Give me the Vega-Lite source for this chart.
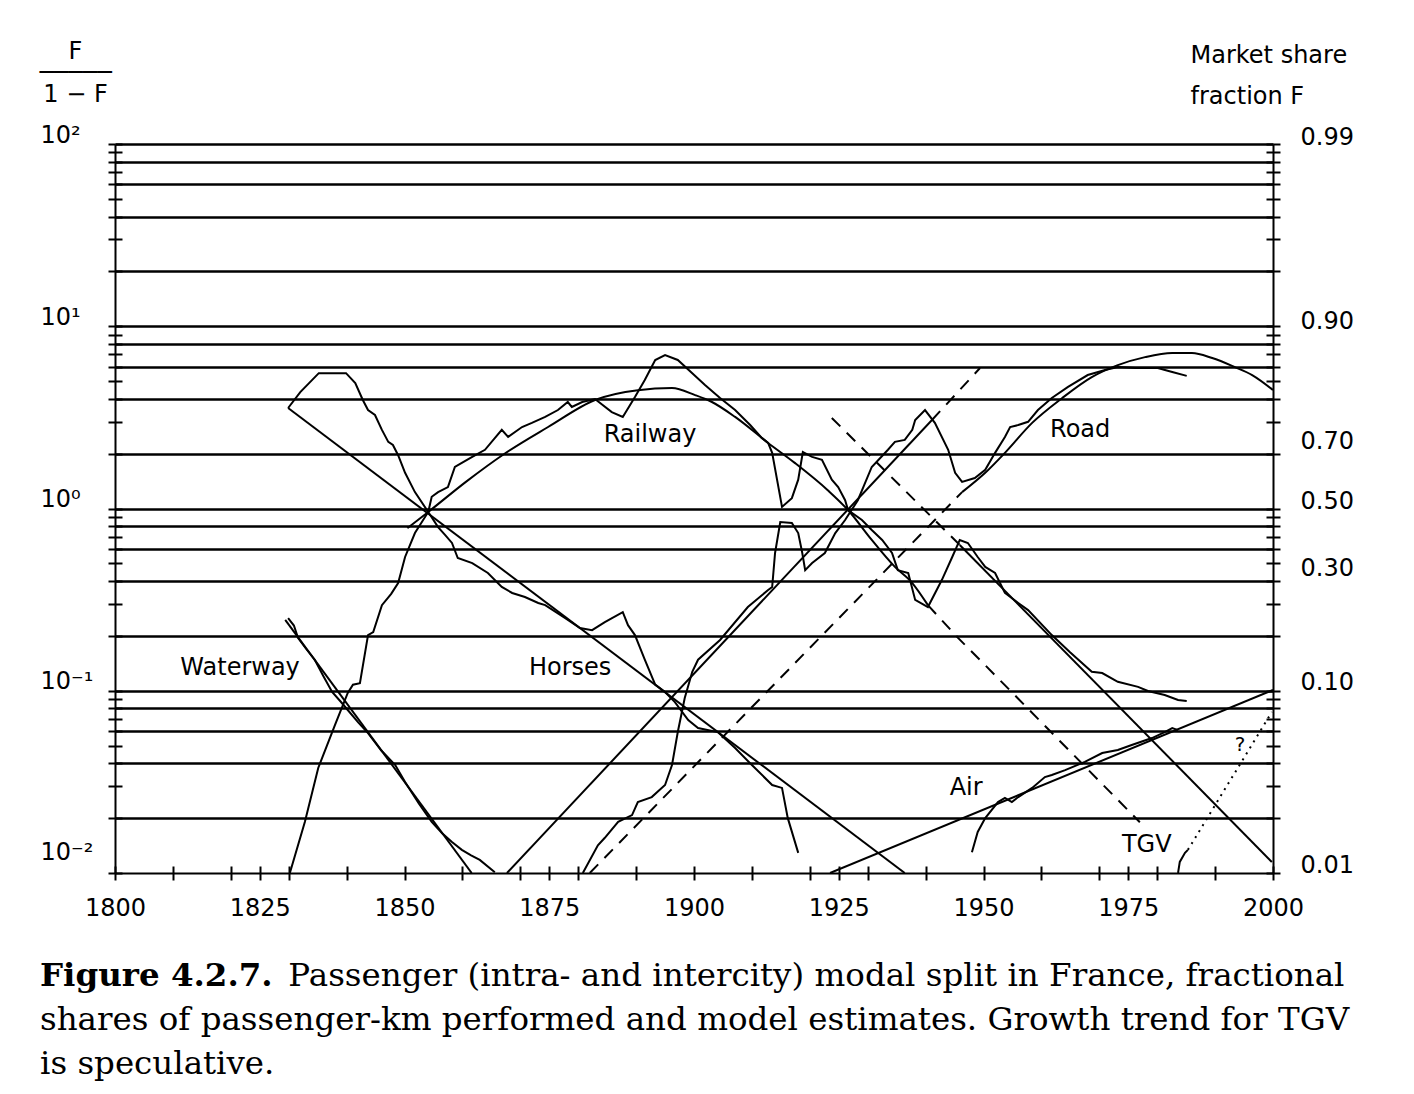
{
  "$schema": "https://vega.github.io/schema/vega-lite/v6.json",
  "width": 1158,
  "height": 729,
  "autosize": {"type": "none"},
  "padding": {"left": 115, "top": 144, "right": 141, "bottom": 221},
  "background": "white",
  "config": {
    "view": {"stroke": null},
    "font": "DejaVu Sans",
    "axis": {
      "domainColor": "black", "domainWidth": 2, "tickColor": "black", "tickWidth": 2,
      "labelColor": "black", "labelFont": "DejaVu Sans", "labelFontSize": 24,
      "titleColor": "black", "titleFont": "DejaVu Sans", "titleFontSize": 24, "titleFontWeight": "normal",
      "grid": false, "labelOverlap": false, "labelFlush": false
    }
  },
  "title": {
    "text": "Figure 4.2.7.",
    "subtitle": [
      "\u2800\u2800\u2800\u2800\u2800\u2800\u2800\u2800\u2800\u2800 Passenger (intra- and intercity) modal split in France, fractional",
      "shares of passenger-km performed and model estimates.  Growth trend for TGV",
      "is speculative."
    ],
    "orient": "bottom", "anchor": "start", "frame": "group",
    "dx": -75, "offset": 40,
    "font": "DejaVu Serif", "fontSize": 32.5, "fontWeight": "bold", "color": "black",
    "subtitleFont": "DejaVu Serif", "subtitleFontSize": 32.5, "subtitleColor": "black",
    "subtitleLineHeight": 44, "subtitlePadding": -32.5
  },
  "datasets": {
    "curves": [
      {"s": "Waterway", "year": 1829.9, "v": 0.250},
      {"s": "Waterway", "year": 1830.9, "v": 0.228},
      {"s": "Waterway", "year": 1831.6, "v": 0.195},
      {"s": "Waterway", "year": 1833.0, "v": 0.170},
      {"s": "Waterway", "year": 1834.5, "v": 0.148},
      {"s": "Waterway", "year": 1836.0, "v": 0.120},
      {"s": "Waterway", "year": 1837.5, "v": 0.0985},
      {"s": "Waterway", "year": 1839.0, "v": 0.087},
      {"s": "Waterway", "year": 1840.2, "v": 0.0784},
      {"s": "Waterway", "year": 1842.0, "v": 0.067},
      {"s": "Waterway", "year": 1843.7, "v": 0.0586},
      {"s": "Waterway", "year": 1846.0, "v": 0.047},
      {"s": "Waterway", "year": 1848.4, "v": 0.0391},
      {"s": "Waterway", "year": 1850.1, "v": 0.0316},
      {"s": "Waterway", "year": 1852.5, "v": 0.024},
      {"s": "Waterway", "year": 1854.7, "v": 0.0191},
      {"s": "Waterway", "year": 1856.5, "v": 0.0165},
      {"s": "Waterway", "year": 1858.2, "v": 0.0148},
      {"s": "Waterway", "year": 1859.9, "v": 0.0134},
      {"s": "Waterway", "year": 1861.5, "v": 0.0125},
      {"s": "Waterway", "year": 1863.0, "v": 0.0118},
      {"s": "Waterway", "year": 1865.6, "v": 0.0101},
      {"s": "Waterway model", "year": 1829.4, "v": 0.245},
      {"s": "Waterway model", "year": 1861.6, "v": 0.0100},

      {"s": "Horses", "year": 1829.9, "v": 3.56},
      {"s": "Horses", "year": 1832.0, "v": 4.35},
      {"s": "Horses", "year": 1835.2, "v": 5.53},
      {"s": "Horses", "year": 1839.9, "v": 5.53},
      {"s": "Horses", "year": 1841.5, "v": 4.88},
      {"s": "Horses", "year": 1842.8, "v": 3.94},
      {"s": "Horses", "year": 1843.7, "v": 3.47},
      {"s": "Horses", "year": 1844.9, "v": 3.26},
      {"s": "Horses", "year": 1846.1, "v": 2.70},
      {"s": "Horses", "year": 1847.2, "v": 2.32},
      {"s": "Horses", "year": 1848.0, "v": 2.23},
      {"s": "Horses", "year": 1848.9, "v": 1.96},
      {"s": "Horses", "year": 1850.1, "v": 1.57},
      {"s": "Horses", "year": 1851.8, "v": 1.23},
      {"s": "Horses", "year": 1854.1, "v": 0.957},
      {"s": "Horses", "year": 1855.8, "v": 0.791},
      {"s": "Horses", "year": 1857.0, "v": 0.716},
      {"s": "Horses", "year": 1858.2, "v": 0.647},
      {"s": "Horses", "year": 1859.2, "v": 0.535},
      {"s": "Horses", "year": 1861.7, "v": 0.502},
      {"s": "Horses", "year": 1864.4, "v": 0.443},
      {"s": "Horses", "year": 1866.8, "v": 0.371},
      {"s": "Horses", "year": 1868.6, "v": 0.344},
      {"s": "Horses", "year": 1870.8, "v": 0.327},
      {"s": "Horses", "year": 1873.1, "v": 0.303},
      {"s": "Horses", "year": 1874.3, "v": 0.295},
      {"s": "Horses", "year": 1877.7, "v": 0.251},
      {"s": "Horses", "year": 1880.3, "v": 0.221},
      {"s": "Horses", "year": 1882.4, "v": 0.215},
      {"s": "Horses", "year": 1884.6, "v": 0.238},
      {"s": "Horses", "year": 1887.7, "v": 0.270},
      {"s": "Horses", "year": 1888.6, "v": 0.229},
      {"s": "Horses", "year": 1889.8, "v": 0.202},
      {"s": "Horses", "year": 1891.5, "v": 0.148},
      {"s": "Horses", "year": 1893.3, "v": 0.108},
      {"s": "Horses", "year": 1895.0, "v": 0.0984},
      {"s": "Horses", "year": 1896.7, "v": 0.0867},
      {"s": "Horses", "year": 1899.0, "v": 0.0690},
      {"s": "Horses", "year": 1900.7, "v": 0.0624},
      {"s": "Horses", "year": 1904.1, "v": 0.0593},
      {"s": "Horses", "year": 1907.1, "v": 0.0485},
      {"s": "Horses", "year": 1910.0, "v": 0.0391},
      {"s": "Horses", "year": 1913.5, "v": 0.0304},
      {"s": "Horses", "year": 1915.2, "v": 0.0293},
      {"s": "Horses", "year": 1916.2, "v": 0.0200},
      {"s": "Horses", "year": 1918.0, "v": 0.0129},
      {"s": "Horses model", "year": 1829.9, "v": 3.56},
      {"s": "Horses model", "year": 1936.4, "v": 0.0100},

      {"s": "Railway", "year": 1830.2, "v": 0.0100},
      {"s": "Railway", "year": 1832.8, "v": 0.0191},
      {"s": "Railway", "year": 1835.1, "v": 0.0377},
      {"s": "Railway", "year": 1838.0, "v": 0.0649},
      {"s": "Railway", "year": 1840.2, "v": 0.0972},
      {"s": "Railway", "year": 1841.1, "v": 0.108},
      {"s": "Railway", "year": 1842.3, "v": 0.110},
      {"s": "Railway", "year": 1843.7, "v": 0.202},
      {"s": "Railway", "year": 1844.6, "v": 0.210},
      {"s": "Railway", "year": 1846.1, "v": 0.295},
      {"s": "Railway", "year": 1847.7, "v": 0.340},
      {"s": "Railway", "year": 1848.9, "v": 0.390},
      {"s": "Railway", "year": 1850.1, "v": 0.542},
      {"s": "Railway", "year": 1851.8, "v": 0.733},
      {"s": "Railway", "year": 1854.1, "v": 0.957},
      {"s": "Railway", "year": 1854.7, "v": 1.16},
      {"s": "Railway", "year": 1855.8, "v": 1.23},
      {"s": "Railway", "year": 1857.5, "v": 1.31},
      {"s": "Railway", "year": 1858.7, "v": 1.69},
      {"s": "Railway", "year": 1859.9, "v": 1.78},
      {"s": "Railway", "year": 1861.7, "v": 1.92},
      {"s": "Railway", "year": 1863.9, "v": 2.10},
      {"s": "Railway", "year": 1866.8, "v": 2.70},
      {"s": "Railway", "year": 1867.9, "v": 2.47},
      {"s": "Railway", "year": 1870.3, "v": 2.80},
      {"s": "Railway", "year": 1872.0, "v": 2.95},
      {"s": "Railway", "year": 1874.3, "v": 3.18},
      {"s": "Railway", "year": 1876.5, "v": 3.47},
      {"s": "Railway", "year": 1878.2, "v": 3.84},
      {"s": "Railway", "year": 1878.9, "v": 3.61},
      {"s": "Railway", "year": 1880.7, "v": 3.84},
      {"s": "Railway", "year": 1882.9, "v": 3.99},
      {"s": "Railway", "year": 1885.8, "v": 3.38},
      {"s": "Railway", "year": 1887.7, "v": 3.18},
      {"s": "Railway", "year": 1889.8, "v": 4.09},
      {"s": "Railway", "year": 1891.5, "v": 5.07},
      {"s": "Railway", "year": 1893.3, "v": 6.53},
      {"s": "Railway", "year": 1895.0, "v": 6.95},
      {"s": "Railway", "year": 1897.2, "v": 6.53},
      {"s": "Railway", "year": 1899.7, "v": 5.53},
      {"s": "Railway", "year": 1901.9, "v": 4.76},
      {"s": "Railway", "year": 1904.5, "v": 4.04},
      {"s": "Railway", "year": 1907.1, "v": 3.47},
      {"s": "Railway", "year": 1909.7, "v": 2.87},
      {"s": "Railway", "year": 1911.7, "v": 2.44},
      {"s": "Railway", "year": 1912.8, "v": 2.29},
      {"s": "Railway", "year": 1913.5, "v": 2.02},
      {"s": "Railway", "year": 1915.2, "v": 1.02},
      {"s": "Railway", "year": 1916.9, "v": 1.14},
      {"s": "Railway", "year": 1918.0, "v": 1.44},
      {"s": "Railway", "year": 1918.8, "v": 2.04},
      {"s": "Railway", "year": 1920.4, "v": 1.92},
      {"s": "Railway", "year": 1922.1, "v": 1.85},
      {"s": "Railway", "year": 1923.8, "v": 1.44},
      {"s": "Railway", "year": 1924.9, "v": 1.31},
      {"s": "Railway", "year": 1926.1, "v": 1.11},
      {"s": "Railway", "year": 1926.6, "v": 0.981},
      {"s": "Railway", "year": 1929.0, "v": 0.865},
      {"s": "Railway", "year": 1930.7, "v": 0.762},
      {"s": "Railway", "year": 1932.5, "v": 0.672},
      {"s": "Railway", "year": 1934.2, "v": 0.570},
      {"s": "Railway", "year": 1935.2, "v": 0.459},
      {"s": "Railway", "year": 1937.0, "v": 0.442},
      {"s": "Railway", "year": 1938.2, "v": 0.315},
      {"s": "Railway", "year": 1940.4, "v": 0.288},
      {"s": "Railway", "year": 1942.8, "v": 0.405},
      {"s": "Railway", "year": 1944.6, "v": 0.542},
      {"s": "Railway", "year": 1945.9, "v": 0.672},
      {"s": "Railway", "year": 1947.3, "v": 0.647},
      {"s": "Railway", "year": 1949.0, "v": 0.542},
      {"s": "Railway", "year": 1950.3, "v": 0.478},
      {"s": "Railway", "year": 1952.0, "v": 0.443},
      {"s": "Railway", "year": 1953.7, "v": 0.344},
      {"s": "Railway", "year": 1956.0, "v": 0.303},
      {"s": "Railway", "year": 1957.7, "v": 0.277},
      {"s": "Railway", "year": 1961.8, "v": 0.202},
      {"s": "Railway", "year": 1964.9, "v": 0.163},
      {"s": "Railway", "year": 1968.7, "v": 0.127},
      {"s": "Railway", "year": 1970.5, "v": 0.125},
      {"s": "Railway", "year": 1973.2, "v": 0.112},
      {"s": "Railway", "year": 1976.7, "v": 0.105},
      {"s": "Railway", "year": 1978.4, "v": 0.0997},
      {"s": "Railway", "year": 1981.3, "v": 0.0948},
      {"s": "Railway", "year": 1983.6, "v": 0.0890},
      {"s": "Railway", "year": 1985.1, "v": 0.0879},

      {"s": "Railway model", "year": 1850.5, "v": 0.78},
      {"s": "Railway model", "year": 1854.1, "v": 0.957},
      {"s": "Railway model", "year": 1860.6, "v": 1.40},
      {"s": "Railway model", "year": 1867.4, "v": 2.01},
      {"s": "Railway model", "year": 1874.8, "v": 2.80},
      {"s": "Railway model", "year": 1882.9, "v": 3.94},
      {"s": "Railway model", "year": 1890.3, "v": 4.46},
      {"s": "Railway model", "year": 1896.2, "v": 4.58},
      {"s": "Railway model", "year": 1900.2, "v": 4.19},
      {"s": "Railway model", "year": 1903.1, "v": 3.84},
      {"s": "Railway model", "year": 1907.1, "v": 3.18},
      {"s": "Railway model", "year": 1912.8, "v": 2.29},
      {"s": "Railway model", "year": 1917.4, "v": 1.78},
      {"s": "Railway model", "year": 1923.1, "v": 1.26},
      {"s": "Railway model", "year": 1926.6, "v": 0.981},
      {"s": "Railway model", "year": 1930.7, "v": 0.672},
      {"s": "Railway model", "year": 1934.7, "v": 0.478},
      {"s": "Railway model", "year": 1937.7, "v": 0.390},
      {"s": "Railway model", "year": 1940.4, "v": 0.295},
      {"s": "Railway model (extrapolated)", "year": 1940.4, "v": 0.295},
      {"s": "Railway model (extrapolated)", "year": 1945.6, "v": 0.195},
      {"s": "Railway model (extrapolated)", "year": 1950.3, "v": 0.138},
      {"s": "Railway model (extrapolated)", "year": 1977.0, "v": 0.0190},
      {"s": "Railway post-war model (backcast)", "year": 1923.8, "v": 3.14},
      {"s": "Railway post-war model (backcast)", "year": 1945.9, "v": 0.631},
      {"s": "Railway post-war model", "year": 1945.9, "v": 0.631},
      {"s": "Railway post-war model", "year": 1999.8, "v": 0.0115},

      {"s": "Road", "year": 1880.8, "v": 0.0100},
      {"s": "Road", "year": 1883.4, "v": 0.0142},
      {"s": "Road", "year": 1884.6, "v": 0.0156},
      {"s": "Road", "year": 1886.9, "v": 0.0191},
      {"s": "Road", "year": 1889.3, "v": 0.0208},
      {"s": "Road", "year": 1890.3, "v": 0.0245},
      {"s": "Road", "year": 1892.7, "v": 0.0261},
      {"s": "Road", "year": 1895.0, "v": 0.0304},
      {"s": "Road", "year": 1896.2, "v": 0.0391},
      {"s": "Road", "year": 1897.2, "v": 0.0594},
      {"s": "Road", "year": 1898.4, "v": 0.0912},
      {"s": "Road", "year": 1899.7, "v": 0.127},
      {"s": "Road", "year": 1900.7, "v": 0.148},
      {"s": "Road", "year": 1904.5, "v": 0.190},
      {"s": "Road", "year": 1909.3, "v": 0.288},
      {"s": "Road", "year": 1912.8, "v": 0.357},
      {"s": "Road", "year": 1913.5, "v": 0.371},
      {"s": "Road", "year": 1914.0, "v": 0.570},
      {"s": "Road", "year": 1914.9, "v": 0.843},
      {"s": "Road", "year": 1916.9, "v": 0.832},
      {"s": "Road", "year": 1918.0, "v": 0.733},
      {"s": "Road", "year": 1918.7, "v": 0.570},
      {"s": "Road", "year": 1919.2, "v": 0.459},
      {"s": "Road", "year": 1920.4, "v": 0.502},
      {"s": "Road", "year": 1922.6, "v": 0.570},
      {"s": "Road", "year": 1924.4, "v": 0.733},
      {"s": "Road", "year": 1926.1, "v": 0.865},
      {"s": "Road", "year": 1928.3, "v": 1.11},
      {"s": "Road", "year": 1930.7, "v": 1.69},
      {"s": "Road", "year": 1933.5, "v": 2.10},
      {"s": "Road", "year": 1934.7, "v": 2.32},
      {"s": "Road", "year": 1936.4, "v": 2.38},
      {"s": "Road", "year": 1937.7, "v": 2.70},
      {"s": "Road", "year": 1938.2, "v": 3.06},
      {"s": "Road", "year": 1939.9, "v": 3.47},
      {"s": "Road", "year": 1941.6, "v": 2.95},
      {"s": "Road", "year": 1943.9, "v": 2.10},
      {"s": "Road", "year": 1945.1, "v": 1.57},
      {"s": "Road", "year": 1946.3, "v": 1.40},
      {"s": "Road", "year": 1948.5, "v": 1.47},
      {"s": "Road", "year": 1950.3, "v": 1.63},
      {"s": "Road", "year": 1952.0, "v": 2.02},
      {"s": "Road", "year": 1953.7, "v": 2.47},
      {"s": "Road", "year": 1954.6, "v": 2.80},
      {"s": "Road", "year": 1956.0, "v": 2.87},
      {"s": "Road", "year": 1957.7, "v": 2.99},
      {"s": "Road", "year": 1959.4, "v": 3.47},
      {"s": "Road", "year": 1961.8, "v": 4.04},
      {"s": "Road", "year": 1964.6, "v": 4.65},
      {"s": "Road", "year": 1968.0, "v": 5.40},
      {"s": "Road", "year": 1971.0, "v": 5.75},
      {"s": "Road", "year": 1973.2, "v": 5.97},
      {"s": "Road", "year": 1976.2, "v": 5.90},
      {"s": "Road", "year": 1980.1, "v": 5.90},
      {"s": "Road", "year": 1982.6, "v": 5.61},
      {"s": "Road", "year": 1985.1, "v": 5.34},

      {"s": "Road model", "year": 1867.7, "v": 0.0100},
      {"s": "Road model", "year": 1941.1, "v": 3.06},
      {"s": "Road model (extrapolated)", "year": 1941.1, "v": 3.06},
      {"s": "Road model (extrapolated)", "year": 1949.4, "v": 5.90},
      {"s": "Road post-war model (backcast)", "year": 1882.0, "v": 0.0100},
      {"s": "Road post-war model (backcast)", "year": 1946.3, "v": 1.23},
      {"s": "Road post-war model", "year": 1946.3, "v": 1.23},
      {"s": "Road post-war model", "year": 1950.3, "v": 1.57},
      {"s": "Road post-war model", "year": 1953.7, "v": 2.02},
      {"s": "Road post-war model", "year": 1958.4, "v": 2.95},
      {"s": "Road post-war model", "year": 1963.6, "v": 4.04},
      {"s": "Road post-war model", "year": 1968.7, "v": 5.26},
      {"s": "Road post-war model", "year": 1973.2, "v": 6.12},
      {"s": "Road post-war model", "year": 1977.9, "v": 6.77},
      {"s": "Road post-war model", "year": 1982.6, "v": 7.13},
      {"s": "Road post-war model", "year": 1986.0, "v": 7.13},
      {"s": "Road post-war model", "year": 1989.5, "v": 6.69},
      {"s": "Road post-war model", "year": 1993.4, "v": 5.97},
      {"s": "Road post-war model", "year": 1996.4, "v": 5.40},
      {"s": "Road post-war model", "year": 2000.0, "v": 4.47},

      {"s": "Air", "year": 1948.0, "v": 0.0130},
      {"s": "Air", "year": 1949.0, "v": 0.0168},
      {"s": "Air", "year": 1950.3, "v": 0.0200},
      {"s": "Air", "year": 1952.5, "v": 0.0245},
      {"s": "Air", "year": 1953.7, "v": 0.0258},
      {"s": "Air", "year": 1954.9, "v": 0.0245},
      {"s": "Air", "year": 1956.0, "v": 0.0261},
      {"s": "Air", "year": 1958.4, "v": 0.0293},
      {"s": "Air", "year": 1960.6, "v": 0.0336},
      {"s": "Air", "year": 1961.8, "v": 0.0345},
      {"s": "Air", "year": 1964.1, "v": 0.0367},
      {"s": "Air", "year": 1967.5, "v": 0.0407},
      {"s": "Air", "year": 1970.5, "v": 0.0455},
      {"s": "Air", "year": 1973.2, "v": 0.0473},
      {"s": "Air", "year": 1975.6, "v": 0.0504},
      {"s": "Air", "year": 1979.1, "v": 0.0550},
      {"s": "Air", "year": 1981.3, "v": 0.0593},
      {"s": "Air", "year": 1982.6, "v": 0.0624},
      {"s": "Air", "year": 1983.6, "v": 0.0608},
      {"s": "Air model", "year": 1923.5, "v": 0.0100},
      {"s": "Air model", "year": 2000.0, "v": 0.101},

      {"s": "TGV", "year": 1983.6, "v": 0.0100},
      {"s": "TGV", "year": 1983.9, "v": 0.0115},
      {"s": "TGV", "year": 1984.8, "v": 0.0129},
      {"s": "TGV", "year": 1985.3, "v": 0.0134},
      {"s": "TGV trend (speculative)", "year": 1985.3, "v": 0.0134},
      {"s": "TGV trend (speculative)", "year": 1999.8, "v": 0.0764}
    ],
    "labels": [
      {"label": "Waterway", "year": 1821.6, "v": 0.133},
      {"label": "Horses", "year": 1878.6, "v": 0.133},
      {"label": "Railway", "year": 1892.4, "v": 2.53},
      {"label": "Road", "year": 1966.7, "v": 2.70},
      {"label": "Air", "year": 1947.0, "v": 0.0293},
      {"label": "TGV", "year": 1978.2, "v": 0.0143}
    ],
    "notes": [
      {"label": "?", "year": 1994.3, "v": 0.0503}
    ]
  },
  "resolve": {"axis": {"x": "independent", "y": "independent"}},
  "layer": [
    {
      "data": {"name": "curves"},
      "transform": [{"filter": {"field": "s", "oneOf": ["Waterway", "Horses", "Railway", "Road", "Air", "TGV"]}}],
      "mark": {"type": "line", "color": "black", "strokeWidth": 2, "clip": true},
      "encoding": {
        "x": {"field": "year", "type": "quantitative", "scale": {"domain": [1800, 2000], "nice": false, "zero": false},
          "axis": {"orient": "bottom", "values": [1800,1810,1820,1825,1830,1840,1850,1860,1870,1875,1880,1890,1900,1910,1920,1925,1930,1940,1950,1960,1970,1975,1980,1990,2000],
            "labelExpr": "datum.value % 25 === 0 ? '' + datum.value : ''", "tickSize": 7, "labelPadding": 16, "title": null}},
        "y": {"field": "v", "type": "quantitative", "scale": {"type": "log", "domain": [0.01, 100], "nice": false},
          "axis": {"orient": "left", "values": [0.01,0.02,0.03,0.04,0.05,0.06,0.07,0.08,0.09,0.1,0.2,0.3,0.4,0.5,0.6,0.7,0.8,0.9,1,2,3,4,5,6,7,8,9,10,20,30,40,50,60,70,80,90,100],
            "labelExpr": "datum.value === 100 ? '10²' : datum.value === 10 ? '10¹' : datum.value === 1 ? '10⁰' : datum.value === 0.1 ? '10⁻¹' : datum.value === 0.01 ? '10⁻²' : ''",
            "labelAlign": "left", "labelPadding": 68, "labelBaseline": "alphabetic",
            "labelOffset": {"condition": {"test": "datum.value < 0.015", "value": -14}, "value": -2},
            "tickSize": 7,
            "title": ["F", "─────", "1 − F"], "titleAngle": 0, "titleX": -40, "titleY": -86,
            "titleAlign": "center", "titleBaseline": "alphabetic", "titleLineHeight": 21.5}},
        "detail": {"field": "s"}
      }
    },
    {
      "data": {"name": "curves"},
      "transform": [{"filter": {"field": "s", "oneOf": ["Waterway model", "Horses model", "Railway model", "Railway post-war model", "Road model", "Road post-war model", "Air model"]}}],
      "mark": {"type": "line", "color": "black", "strokeWidth": 2, "interpolate": "monotone", "clip": true},
      "encoding": {
        "x": {"field": "year", "type": "quantitative",
          "axis": {"orient": "bottom", "values": [1800,1810,1820,1825,1830,1840,1850,1860,1870,1875,1880,1890,1900,1910,1920,1925,1930,1940,1950,1960,1970,1975,1980,1990,2000],
            "labels": false, "domain": false, "tickSize": -7, "title": null}},
        "y": {"field": "v", "type": "quantitative",
          "axis": {"orient": "left", "values": [0.01,0.02,0.03,0.04,0.05,0.06,0.07,0.08,0.09,0.1,0.2,0.3,0.4,0.5,0.6,0.7,0.8,0.9,1,2,3,4,5,6,7,8,9,10,20,30,40,50,60,70,80,90,100],
            "labels": false, "domain": false, "tickSize": -7, "title": null}},
        "detail": {"field": "s"}
      }
    },
    {
      "data": {"name": "curves"},
      "transform": [{"filter": {"field": "s", "oneOf": ["Railway model (extrapolated)", "Railway post-war model (backcast)", "Road model (extrapolated)", "Road post-war model (backcast)"]}}],
      "mark": {"type": "line", "color": "black", "strokeWidth": 2, "strokeDash": [12, 9], "clip": true},
      "encoding": {
        "x": {"field": "year", "type": "quantitative", "axis": null},
        "y": {"field": "v", "type": "quantitative",
          "axis": {"orient": "right", "values": [0.01,0.02,0.03,0.04,0.05,0.06,0.07,0.08,0.09,0.1,0.2,0.3,0.4,0.5,0.6,0.7,0.8,0.9,1,2,3,4,5,6,7,8,9,10,20,30,40,50,60,70,80,90,100],
            "labels": false, "domain": true, "tickSize": 7, "title": null}},
        "detail": {"field": "s"}
      }
    },
    {
      "data": {"name": "curves"},
      "transform": [{"filter": {"field": "s", "oneOf": ["TGV trend (speculative)"]}}],
      "mark": {"type": "line", "color": "black", "strokeWidth": 2, "strokeDash": [2, 5], "clip": true},
      "encoding": {
        "x": {"field": "year", "type": "quantitative", "axis": null},
        "y": {"field": "v", "type": "quantitative",
          "axis": {"orient": "right", "values": [0.01,0.02,0.03,0.04,0.05,0.06,0.07,0.08,0.09,0.1,0.2,0.3,0.4,0.5,0.6,0.7,0.8,0.9,1,2,3,4,5,6,7,8,9,10,20,30,40,50,60,70,80,90,100],
            "labels": false, "domain": false, "tickSize": -7, "title": null}},
        "detail": {"field": "s"}
      }
    },
    {
      "data": {"name": "labels"},
      "mark": {"type": "text", "color": "black", "font": "DejaVu Sans", "fontSize": 24, "align": "center", "baseline": "middle"},
      "encoding": {
        "x": {"field": "year", "type": "quantitative", "axis": null},
        "y": {"field": "v", "type": "quantitative",
          "axis": {"orient": "right", "values": [99, 9, 2.3333333, 1, 0.4285714, 0.1111111, 0.010101],
            "labelExpr": "format(datum.value / (1 + datum.value), '.2f')",
            "ticks": false, "tickSize": 0, "domain": false, "labelPadding": 27, "labelBaseline": "alphabetic",
            "labelOffset": {"condition": [
              {"test": "datum.value > 5 && datum.value < 10", "value": -6},
              {"test": "datum.value > 2 && datum.value < 3", "value": 7},
              {"test": "datum.value > 0.1 && datum.value < 0.2", "value": 7}
            ], "value": 0},
            "title": ["Market share", "fraction F"], "titleAngle": 0, "titleAlign": "left", "titleX": -83, "titleY": -82,
            "titleBaseline": "alphabetic", "titleLineHeight": 41}},
        "text": {"field": "label"}
      }
    },
    {
      "data": {"name": "notes"},
      "mark": {"type": "text", "color": "black", "font": "DejaVu Sans", "fontSize": 20, "align": "center", "baseline": "middle"},
      "encoding": {
        "x": {"field": "year", "type": "quantitative", "axis": null},
        "y": {"field": "v", "type": "quantitative",
          "axis": {"orient": "left", "values": [0.02,0.04,0.06,0.08,0.1,0.2,0.4,0.6,0.8,1,2,4,6,8,10,20,40,60,80,100],
            "grid": true, "gridColor": "black", "gridWidth": 2.5, "gridOpacity": 1,
            "labels": false, "ticks": false, "domain": false, "title": null}},
        "text": {"field": "label"}
      }
    }
  ]
}
